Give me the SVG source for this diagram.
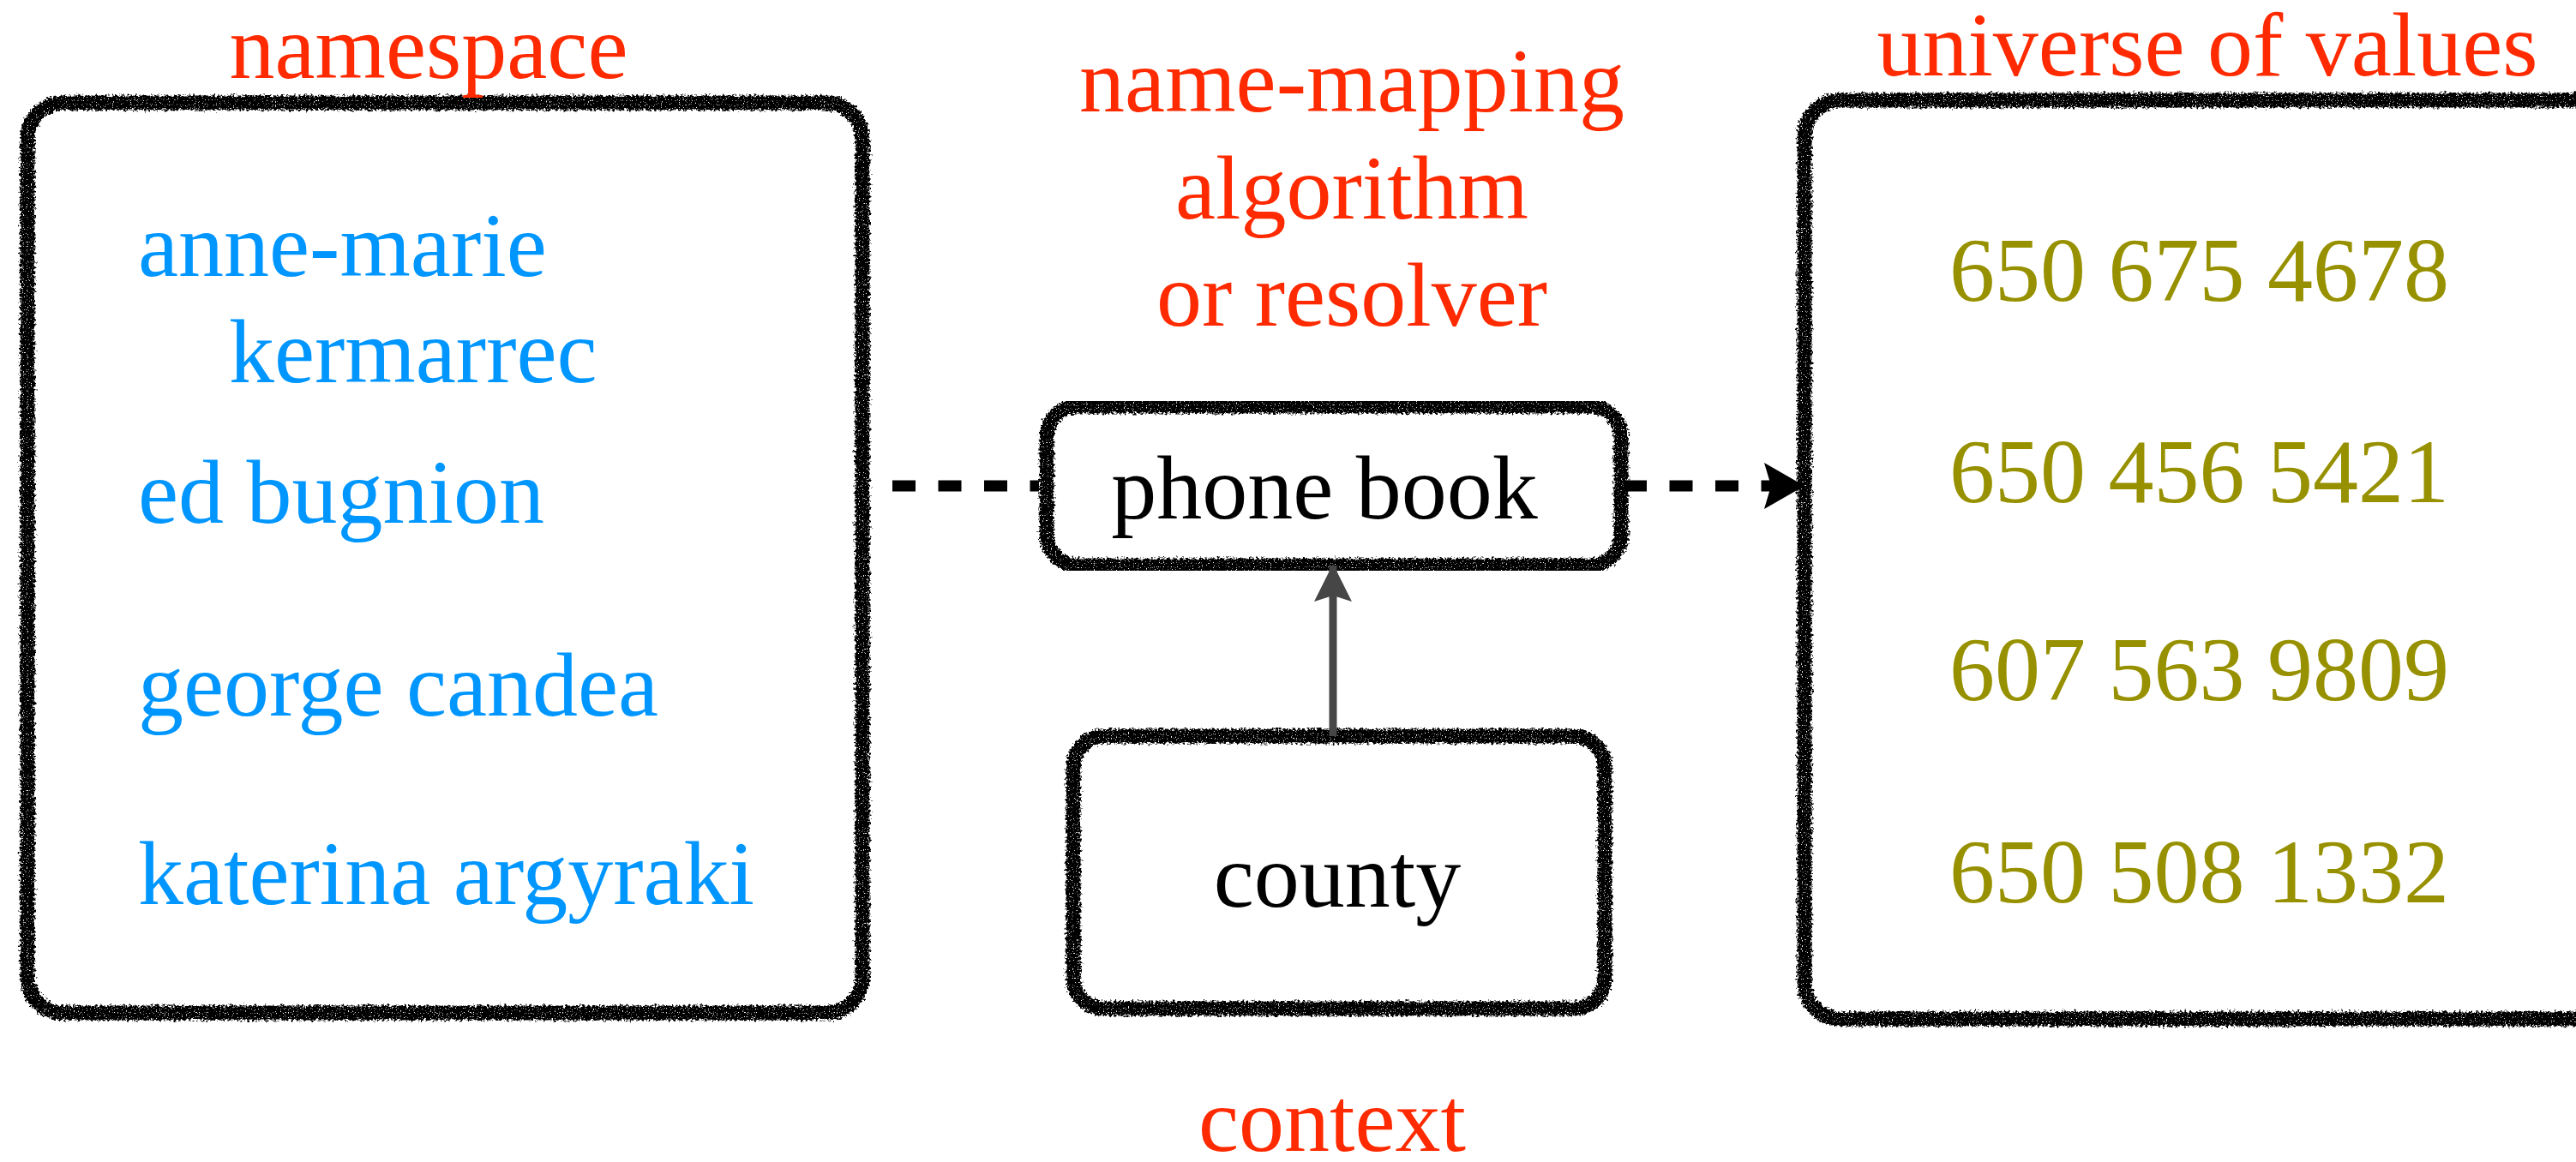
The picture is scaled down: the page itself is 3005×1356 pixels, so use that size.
<svg xmlns="http://www.w3.org/2000/svg" width="3005" height="1356" viewBox="0 0 3005 1356">
<style>
  text { font-family: "Liberation Serif", "Times New Roman", serif; font-size: 106px; }
  .red { fill: #FF2A00; }
  .blue { fill: #0096FF; }
  .olive { fill: #979100; }
  .black { fill: #000000; }
  .mid { text-anchor: middle; }
  .box { fill: #ffffff; stroke: #000000; stroke-width: 17; filter: url(#rough); }
  .dash { fill: none; stroke: #000000; stroke-width: 13; stroke-dasharray: 27 26.5; }
  .solid { fill: none; stroke: #464646; stroke-width: 9; }
</style>
<defs>
  <filter id="rough" x="-3%" y="-3%" width="106%" height="106%">
    <feTurbulence type="fractalNoise" baseFrequency="0.35" numOctaves="2" seed="7" result="noise"/>
    <feDisplacementMap in="SourceGraphic" in2="noise" scale="9" xChannelSelector="R" yChannelSelector="G" result="disp"/>
    <feTurbulence type="fractalNoise" baseFrequency="0.8" numOctaves="1" seed="3" result="grain"/>
    <feColorMatrix in="grain" type="matrix" values="0 0 0 0 0  0 0 0 0 0  0 0 0 0 0  -9 0 0 0 6.6" result="mask"/>
    <feComposite in="disp" in2="mask" operator="in"/>
  </filter>
  <marker id="blackHead" markerUnits="userSpaceOnUse" viewBox="-50 -30 55 60" refX="0" refY="0" markerWidth="55" markerHeight="60" orient="auto">
    <path d="M2,0 L-45,-27 L-37,0 L-45,27 Z" fill="#000000"/>
  </marker>
  <marker id="grayHead" markerUnits="userSpaceOnUse" viewBox="-50 -30 55 60" refX="0" refY="0" markerWidth="55" markerHeight="60" orient="auto">
    <path d="M2,0 L-42,-22 L-35,0 L-42,22 Z" fill="#464646"/>
  </marker>
</defs>
<rect width="3005" height="1356" fill="#ffffff"/>

<g id="namespace">
  <rect class="box" x="32" y="120" width="974" height="1062" rx="42"/>
  <text class="red mid" x="500" y="91">namespace</text>
  <text class="blue" x="161" y="322">anne-marie</text>
  <text class="blue" x="267" y="446">kermarrec</text>
  <text class="blue" x="161" y="610">ed bugnion</text>
  <text class="blue" x="161" y="835">george candea</text>
  <text class="blue" x="161" y="1055">katerina argyraki</text>
</g>

<g id="resolver">
  <rect class="box" x="1221" y="474" width="670" height="186" rx="36"/>
  <text class="red mid" x="1577" y="130">name-mapping</text>
  <text class="red mid" x="1577" y="255">algorithm</text>
  <text class="red mid" x="1577" y="380">or resolver</text>
  <text class="black mid" x="1545" y="605">phone book</text>
</g>

<g id="context">
  <rect class="box" x="1252" y="859" width="620" height="318" rx="36"/>
  <text class="black mid" x="1560" y="1058">county</text>
  <text class="red mid" x="1554" y="1343">context</text>
</g>

<g id="values">
  <rect class="box" x="2105" y="117" width="1000" height="1072" rx="42"/>
  <text class="red mid" x="2575" y="88">universe of values</text>
  <text class="olive" x="2274" y="351">650 675 4678</text>
  <text class="olive" x="2274" y="586">650 456 5421</text>
  <text class="olive" x="2274" y="817">607 563 9809</text>
  <text class="olive" x="2274" y="1053">650 508 1332</text>
</g>

<g id="connectors">
  <path class="dash" d="M1041 567 L1212 567"/>
  <path class="dash" d="M1894 567 L2103 567" marker-end="url(#blackHead)"/>
  <path class="solid" d="M1555 859 L1555 660" marker-end="url(#grayHead)"/>
</g>
</svg>
